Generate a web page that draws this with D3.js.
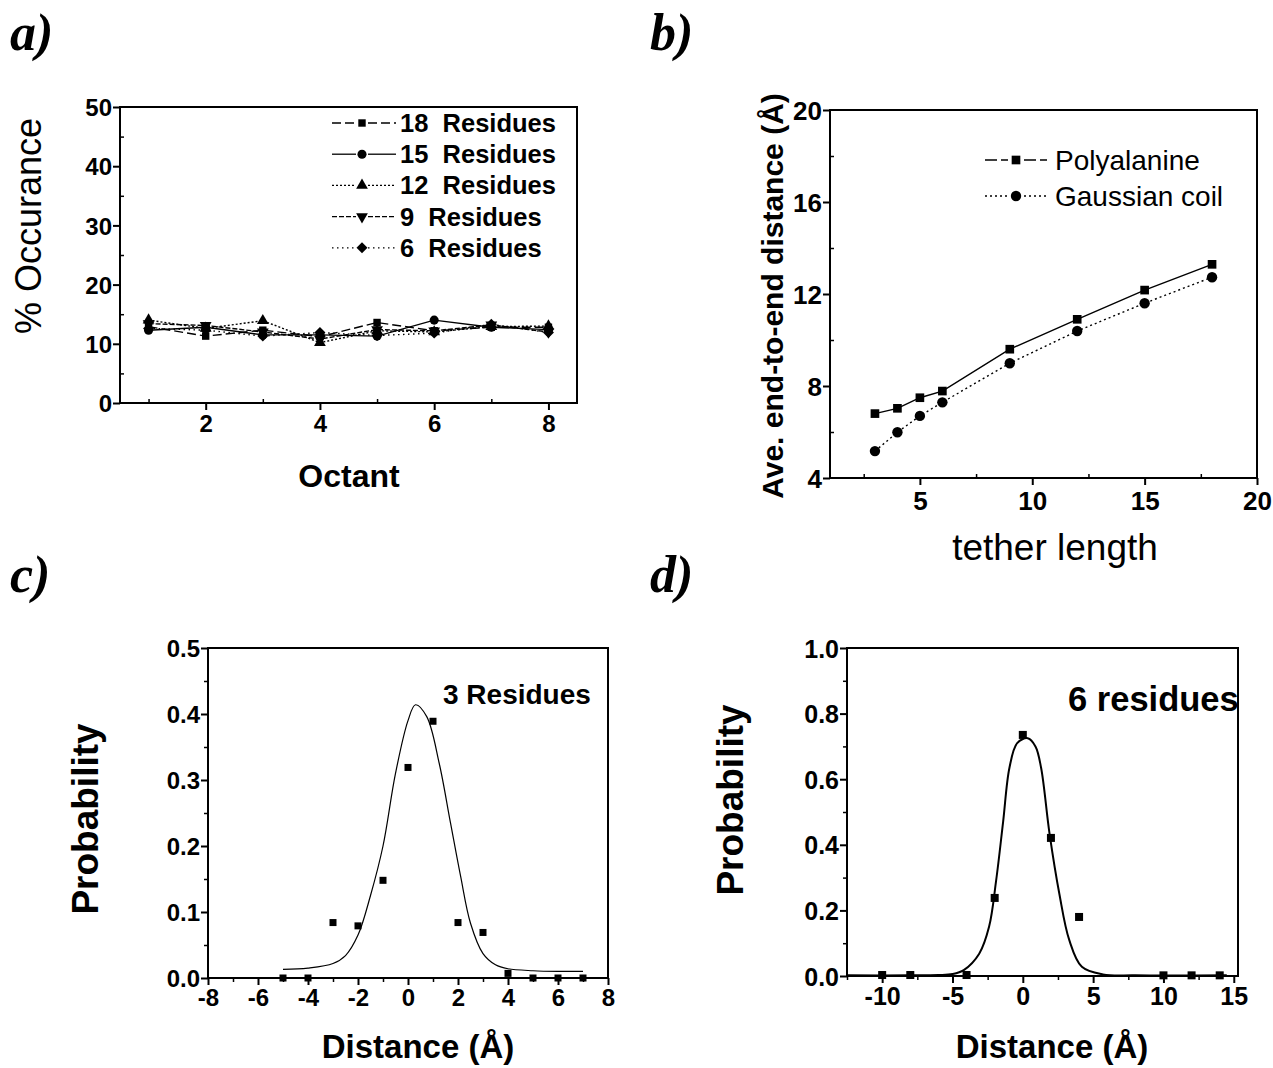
<!DOCTYPE html>
<html>
<head>
<meta charset="utf-8">
<script src="https://cdn.jsdelivr.net/npm/d3@7"></script>
<style>
	body { margin: 0; background: #fff; }
	text { font-family: "Liberation Sans", Arial, sans-serif; fill: #000; }
	.tick text { font-weight: bold; }
	.panel-tag { font-family: "Liberation Serif", "Times New Roman", serif; font-weight: bold; font-style: italic; font-size: 52px; }
</style>
</head>
<body>
<div id="chart"></div>
<script>
// ---- data: panel a, % occurance per octant
var octants = [1, 2, 3, 4, 5, 6, 7, 8];
var res18 = [12.9, 11.3, 12.3, 11.2, 13.6, 12.2, 12.8, 12.8];
var res15 = [12.3, 12.8, 11.5, 11.5, 11.3, 14.0, 12.8, 12.4];
var res12 = [14.0, 12.6, 13.9, 10.2, 12.2, 12.0, 12.9, 13.0];
var res9  = [13.4, 13.1, 12.0, 10.8, 12.4, 12.2, 13.2, 12.0];
var res6  = [12.6, 12.3, 11.3, 11.9, 11.4, 11.8, 13.3, 11.9];

// panel b, end-to-end distance vs tether length
var tetherLen = [3, 4, 5, 6, 9, 12, 15, 18];
var polyala   = [6.8, 7.03, 7.49, 7.78, 9.6, 10.9, 12.17, 13.29];
var gaussCoil = [5.17, 5.99, 6.7, 7.29, 8.99, 10.39, 11.6, 12.73];

// panel c, 3 residues
var distC = [-5, -4, -3, -2, -1, 0, 1, 2, 3, 4, 5, 6, 7];
var probC = [0, 0, 0.084, 0.079, 0.148, 0.319, 0.389, 0.084, 0.069, 0.007, 0, 0, 0];
var fitCx = [-5, -4, -3, -2.5, -2, -1.5, -1, -0.5, 0, 0.3, 0.75, 1.25, 1.7, 2.1, 2.5, 3, 3.5, 4, 5, 6, 7];
var fitCy = [0.013, 0.015, 0.022, 0.034, 0.065, 0.125, 0.2, 0.31, 0.39, 0.414, 0.396, 0.325, 0.235, 0.155, 0.083, 0.037, 0.02, 0.014, 0.011, 0.01, 0.01];

// panel d, 6 residues
var distD = [-10, -8, -4, -2, 0, 2, 4, 10, 12, 14];
var probD = [0.003, 0.003, 0.003, 0.238, 0.735, 0.421, 0.18, 0.002, 0.002, 0.002];
var fitDx = [-12.5, -8, -6, -5, -4.2, -3.1, -2.4, -1.9, -1.4, -0.95, -0.4, 0.35, 0.9, 1.3, 1.9, 2.6, 3.3, 4.2, 5.7, 8, 14.5];
var fitDy = [0.002, 0.002, 0.003, 0.006, 0.018, 0.068, 0.15, 0.29, 0.47, 0.635, 0.71, 0.725, 0.70, 0.635, 0.434, 0.25, 0.11, 0.028, 0.005, 0.002, 0.002];

var width = 1273, height = 1068;

var svg = d3.select("#chart").append("svg")
	.attr("width", width)
	.attr("height", height)
	.style("background", "#fff");

// plain hyphen minus like the original
var intFmt = function(d) { return String(d); };
var oneDec = function(d) { return d.toFixed(1); };

// draws the frame, ticks and labels of one panel, returns scales
function makePanel(o) {
	var x = d3.scaleLinear().domain(o.xdom).range([o.left, o.right]);
	var y = d3.scaleLinear().domain(o.ydom).range([o.bottom, o.top]);
	var g = svg.append("g");

	// minor ticks
	g.append("g")
		.attr("transform", "translate(0," + o.bottom + ")")
		.call(d3.axisBottom(x).tickValues(o.xminor).tickSize(o.minorIn ? -4 : 4).tickFormat(""))
		.call(function(s) { s.select(".domain").remove(); s.selectAll("line").attr("stroke-width", 1.5); });
	g.append("g")
		.attr("transform", "translate(" + o.left + ",0)")
		.call(d3.axisLeft(y).tickValues(o.yminor).tickSize(o.minorIn ? -4 : 4).tickFormat(""))
		.call(function(s) { s.select(".domain").remove(); s.selectAll("line").attr("stroke-width", 1.5); });

	// major ticks
	g.append("g")
		.attr("transform", "translate(0," + o.bottom + ")")
		.call(d3.axisBottom(x).tickValues(o.xticks).tickSize(7).tickPadding(o.xpad).tickSizeOuter(0).tickFormat(o.xfmt || intFmt))
		.call(function(s) {
			s.select(".domain").remove();
			s.selectAll("line").attr("stroke-width", 2);
			s.selectAll("text").style("font-size", o.tickFont + "px");
		});
	g.append("g")
		.attr("transform", "translate(" + o.left + ",0)")
		.call(d3.axisLeft(y).tickValues(o.yticks).tickSize(7).tickPadding(1).tickSizeOuter(0).tickFormat(o.yfmt || intFmt))
		.call(function(s) {
			s.select(".domain").remove();
			s.selectAll("line").attr("stroke-width", 2);
			s.selectAll("text").style("font-size", o.tickFont + "px").attr("dy", "0.36em");
		});

	// frame
	g.append("rect")
		.attr("x", o.left).attr("y", o.top)
		.attr("width", o.right - o.left).attr("height", o.bottom - o.top)
		.attr("fill", "none").attr("stroke", "#000").attr("stroke-width", 2);

	return { x: x, y: y, g: g };
}

function label(txt, x, y, size, bold, rotate) {
	svg.append("text")
		.attr("transform", "translate(" + x + "," + y + ")" + (rotate ? " rotate(-90)" : ""))
		.attr("text-anchor", "middle")
		.style("font-size", size + "px")
		.style("font-weight", bold ? "bold" : "normal")
		.text(txt);
}

// panel tags
[["a)", 10, 50], ["b)", 650, 50], ["c)", 10, 592], ["d)", 650, 592]].forEach(function(t) {
	svg.append("text").attr("class", "panel-tag").attr("x", t[1]).attr("y", t[2]).text(t[0]);
});

// ================= panel a
var pa = makePanel({
	left: 120, right: 577, top: 107, bottom: 403,
	xdom: [0.5, 8.5], ydom: [0, 50],
	xticks: [2, 4, 6, 8], xminor: [1, 3, 5, 7],
	yticks: [0, 10, 20, 30, 40, 50], yminor: [5, 15, 25, 35, 45],
	tickFont: 24, xpad: 5, minorIn: true
});

var seriesA = [
	{ name: "18  Residues", vals: res18, shape: d3.symbolSquare, size: 55, dash: "9,4", rot: 0 },
	{ name: "15  Residues", vals: res15, shape: d3.symbolCircle, size: 65, dash: null, rot: 0 },
	{ name: "12  Residues", vals: res12, shape: d3.symbolTriangle, size: 60, dash: "2,2", rot: 0 },
	{ name: "9  Residues", vals: res9, shape: d3.symbolTriangle, size: 60, dash: "5,2", rot: 180 },
	{ name: "6  Residues", vals: res6, shape: d3.symbolSquare, size: 60, dash: "1.5,3.5", rot: 45 }
];

var lineA = d3.line()
	.x(function(d) { return pa.x(d[0]); })
	.y(function(d) { return pa.y(d[1]); });

seriesA.forEach(function(s) {
	var pts = octants.map(function(o, i) { return [o, s.vals[i]]; });
	pa.g.append("path")
		.datum(pts)
		.attr("d", lineA)
		.attr("fill", "none")
		.attr("stroke", "#000")
		.attr("stroke-width", 1.4)
		.attr("stroke-dasharray", s.dash);
	pa.g.selectAll(null)
		.data(pts)
		.enter().append("path")
		.attr("d", d3.symbol().type(s.shape).size(s.size))
		.attr("transform", function(d) { return "translate(" + pa.x(d[0]) + "," + pa.y(d[1]) + ") rotate(" + s.rot + ")"; })
		.attr("fill", "#000");
});

// legend a
seriesA.forEach(function(s, i) {
	var ly = 123 + i * 31.2;
	var lg = svg.append("g");
	lg.append("line").attr("x1", 332).attr("x2", 356).attr("y1", ly).attr("y2", ly)
		.attr("stroke", "#000").attr("stroke-width", 1.3).attr("stroke-dasharray", s.dash);
	lg.append("line").attr("x1", 368).attr("x2", 396).attr("y1", ly).attr("y2", ly)
		.attr("stroke", "#000").attr("stroke-width", 1.3).attr("stroke-dasharray", s.dash);
	lg.append("path").attr("d", d3.symbol().type(s.shape).size(s.size))
		.attr("transform", "translate(362," + ly + ") rotate(" + s.rot + ")");
	lg.append("text").attr("x", 400).attr("y", ly + 9)
		.style("font-size", "25.5px").style("font-weight", "bold")
		.attr("xml:space", "preserve")
		.text(s.name);
});

label("% Occurance", 41, 226, 36, false, true);
label("Octant", 349, 487, 32, true, false);

// ================= panel b
var pb = makePanel({
	left: 830, right: 1257, top: 110, bottom: 478,
	xdom: [1, 20], ydom: [4, 20],
	xticks: [5, 10, 15, 20], xminor: [2.5, 7.5, 12.5, 17.5],
	yticks: [4, 8, 12, 16, 20], yminor: [6, 10, 14, 18],
	tickFont: 26, xpad: 7, minorIn: true
});

var lineB = d3.line()
	.x(function(d) { return pb.x(d[0]); })
	.y(function(d) { return pb.y(d[1]); });

var seriesB = [
	{ name: "Polyalanine", vals: polyala, shape: d3.symbolSquare, size: 75, dash: null, ldash: "12,4" },
	{ name: "Gaussian coil", vals: gaussCoil, shape: d3.symbolCircle, size: 85, dash: "2,3", ldash: "2,3" }
];

seriesB.forEach(function(s, i) {
	var pts = tetherLen.map(function(t, j) { return [t, s.vals[j]]; });
	pb.g.append("path").datum(pts).attr("d", lineB)
		.attr("fill", "none").attr("stroke", "#000").attr("stroke-width", 1.4)
		.attr("stroke-dasharray", s.dash);
	pb.g.selectAll(null).data(pts).enter().append("path")
		.attr("d", d3.symbol().type(s.shape).size(s.size))
		.attr("transform", function(d) { return "translate(" + pb.x(d[0]) + "," + pb.y(d[1]) + ")"; });

	var ly = 160 + i * 36;
	svg.append("line").attr("x1", 985).attr("x2", 1008).attr("y1", ly).attr("y2", ly)
		.attr("stroke", "#000").attr("stroke-width", 1.3).attr("stroke-dasharray", s.ldash);
	svg.append("line").attr("x1", 1024).attr("x2", 1047).attr("y1", ly).attr("y2", ly)
		.attr("stroke", "#000").attr("stroke-width", 1.3).attr("stroke-dasharray", s.ldash);
	svg.append("path").attr("d", d3.symbol().type(s.shape).size(s.size))
		.attr("transform", "translate(1016," + ly + ")");
	svg.append("text").attr("x", 1055).attr("y", ly + 10)
		.style("font-size", "28px").text(s.name);
});

label("Ave. end-to-end distance (Å)", 783, 296, 30, true, true);
label("tether length", 1055, 560, 37, false, false);

// ================= panel c
var pc = makePanel({
	left: 208, right: 608, top: 648, bottom: 978,
	xdom: [-8, 8], ydom: [0, 0.5],
	xticks: [-8, -6, -4, -2, 0, 2, 4, 6, 8], xminor: [-7, -5, -3, -1, 1, 3, 5, 7],
	yticks: [0, 0.1, 0.2, 0.3, 0.4, 0.5], yminor: [0.05, 0.15, 0.25, 0.35, 0.45],
	tickFont: 24, xpad: 4, minorIn: false,
	yfmt: oneDec
});

var fitC = fitCx.map(function(v, i) { return [v, fitCy[i]]; });
pc.g.append("path").datum(fitC)
	.attr("d", d3.line().curve(d3.curveCatmullRom)
		.x(function(d) { return pc.x(d[0]); })
		.y(function(d) { return pc.y(d[1]); }))
	.attr("fill", "none").attr("stroke", "#000").attr("stroke-width", 1.2);

pc.g.selectAll(null).data(distC).enter().append("rect")
	.attr("x", function(d) { return pc.x(d) - 3.5; })
	.attr("y", function(d, i) { return pc.y(probC[i]) - 3.5; })
	.attr("width", 7).attr("height", 7).attr("fill", "#000");

svg.append("text").attr("x", 443).attr("y", 704)
	.style("font-size", "28px").style("font-weight", "bold").text("3 Residues");

label("Probability", 98, 819, 37, true, true);
label("Distance (Å)", 418, 1058, 33, true, false);

// ================= panel d
var pd = makePanel({
	left: 847, right: 1238, top: 648, bottom: 976,
	xdom: [-12.5, 15.3], ydom: [0, 1],
	xticks: [-10, -5, 0, 5, 10, 15], xminor: [-12.5, -7.5, -2.5, 2.5, 7.5, 12.5],
	yticks: [0, 0.2, 0.4, 0.6, 0.8, 1.0], yminor: [0.1, 0.3, 0.5, 0.7, 0.9],
	tickFont: 25, xpad: 4, minorIn: false,
	yfmt: oneDec
});

var fitD = fitDx.map(function(v, i) { return [v, fitDy[i]]; });
pd.g.append("path").datum(fitD)
	.attr("d", d3.line().curve(d3.curveCatmullRom)
		.x(function(d) { return pd.x(d[0]); })
		.y(function(d) { return pd.y(d[1]); }))
	.attr("fill", "none").attr("stroke", "#000").attr("stroke-width", 2);

pd.g.selectAll(null).data(distD).enter().append("rect")
	.attr("x", function(d) { return pd.x(d) - 4; })
	.attr("y", function(d, i) { return pd.y(probD[i]) - 4; })
	.attr("width", 8).attr("height", 8).attr("fill", "#000");

svg.append("text").attr("x", 1068).attr("y", 711)
	.style("font-size", "34.5px").style("font-weight", "bold").text("6 residues");

label("Probability", 743, 800, 37, true, true);
label("Distance (Å)", 1052, 1058, 33, true, false);
</script>
</body>
</html>
